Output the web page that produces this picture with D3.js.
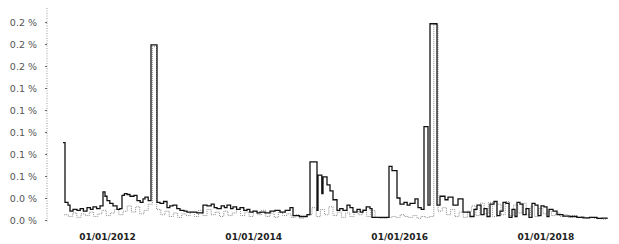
<!DOCTYPE html>
<html>
<head>
<meta charset="utf-8">
<script src="https://cdn.jsdelivr.net/npm/d3@7"></script>
<style>
  body { margin: 0; background: #fff; }
  svg { display: block; }
</style>
</head>
<body>
<div id="chart"></div>
<script>
// y tick values (in %) and the labels printed next to them
const yTicks = [0, 0.025, 0.05, 0.075, 0.1, 0.125, 0.15, 0.175, 0.2, 0.225];
const yTickLabels = ["0.0 %", "0.0 %", "0.1 %", "0.1 %", "0.1 %", "0.1 %", "0.1 %", "0.2 %", "0.2 %", "0.2 %"];
const xTicks = ["2012-01-01", "2014-01-01", "2016-01-01", "2018-01-01"];

// black series (step starts)
const blackDates = [
  "2011-05-26","2011-06-05","2011-06-20","2011-06-30","2011-07-15","2011-08-04","2011-08-20","2011-09-05",
  "2011-09-23","2011-10-10","2011-10-23","2011-11-10","2011-11-27","2011-12-12","2011-12-22","2012-01-01",
  "2012-01-15","2012-01-31","2012-02-20","2012-03-05","2012-03-16","2012-03-28","2012-04-10","2012-04-25",
  "2012-05-15","2012-05-30","2012-06-15","2012-06-29","2012-07-09","2012-07-25","2012-08-08","2012-09-07",
  "2012-09-22","2012-10-10","2012-10-27","2012-11-10","2012-11-26","2012-12-15","2012-12-31","2013-01-20",
  "2013-02-04","2013-03-01","2013-03-25","2013-04-25","2013-05-15","2013-06-05","2013-06-20","2013-07-04",
  "2013-07-25","2013-08-10","2013-08-23","2013-09-10","2013-09-22","2013-10-10","2013-10-27","2013-11-15",
  "2013-12-01","2013-12-15","2013-12-31","2014-01-20","2014-02-04","2014-03-01","2014-03-26","2014-04-20",
  "2014-05-15","2014-06-10","2014-07-04","2014-07-19","2014-08-20","2014-09-27","2014-10-12","2014-11-16",
  "2014-11-21","2014-12-10","2014-12-16","2015-01-05","2015-01-20","2015-02-04","2015-02-24","2015-03-10",
  "2015-03-26","2015-04-15","2015-04-30","2015-05-15","2015-06-04","2015-06-20","2015-07-04","2015-07-20",
  "2015-08-08","2015-08-18","2015-11-11","2015-11-26","2015-12-21","2016-01-05","2016-01-25","2016-02-10",
  "2016-02-24","2016-03-20","2016-04-04","2016-04-20","2016-05-04","2016-05-24","2016-06-03","2016-07-08",
  "2016-07-23","2016-08-17","2016-09-01","2016-09-26","2016-10-21","2016-11-15","2016-12-20","2017-01-09",
  "2017-01-24","2017-02-13","2017-02-28","2017-03-15","2017-03-30","2017-04-19","2017-05-04","2017-05-19",
  "2017-06-03","2017-06-18","2017-07-03","2017-07-18","2017-08-02","2017-08-12","2017-08-27","2017-09-11",
  "2017-09-26","2017-10-11","2017-10-26","2017-11-10","2017-11-25","2017-12-10","2017-12-25","2018-01-09",
  "2018-01-19","2018-02-08","2018-02-28","2018-03-30","2018-05-04","2018-06-08","2018-07-08","2018-08-10",
  "2018-09-16","2018-10-10","2018-11-05"
];
const blackValues = [
  0.088,0.020,0.017,0.010,0.012,0.011,0.013,0.010,
  0.014,0.012,0.015,0.013,0.016,0.032,0.027,0.022,
  0.019,0.016,0.012,0.013,0.028,0.030,0.029,0.027,
  0.028,0.022,0.020,0.024,0.026,0.022,0.199,0.020,
  0.019,0.021,0.014,0.016,0.017,0.013,0.011,0.010,
  0.009,0.009,0.008,0.017,0.016,0.018,0.014,0.013,
  0.016,0.014,0.017,0.013,0.015,0.012,0.014,0.011,
  0.012,0.009,0.010,0.008,0.009,0.008,0.010,0.011,
  0.009,0.011,0.014,0.005,0.004,0.006,0.066,0.011,
  0.051,0.030,0.049,0.040,0.033,0.023,0.011,0.013,
  0.011,0.017,0.014,0.009,0.012,0.009,0.011,0.015,
  0.013,0.003,0.061,0.056,0.025,0.018,0.020,0.017,
  0.019,0.024,0.014,0.012,0.106,0.017,0.223,0.017,
  0.027,0.023,0.026,0.017,0.024,0.009,0.004,0.012,
  0.017,0.006,0.013,0.004,0.018,0.021,0.005,0.010,
  0.020,0.019,0.003,0.012,0.004,0.020,0.018,0.006,
  0.013,0.003,0.019,0.017,0.005,0.016,0.015,0.004,
  0.012,0.010,0.006,0.0045,0.004,0.003,0.0025,0.003,
  0.0018,0.0022,0.001
];

// grey dotted series, one value every 21 days from 2011-06-01
const grayStart = "2011-06-01";
const grayValues = [
  0.006,0.004,0.008,0.003,0.007,0.005,0.009,0.004,0.007,0.011,0.005,0.008,0.012,0.006,0.010,0.016,0.009,0.015,0.007,0.011,0.018,
  0.197,
  0.012,0.006,0.010,0.004,0.008,0.003,0.007,0.005,0.009,0.004,0.011,0.005,0.012,0.006,0.009,0.004,0.010,0.005,
  0.008,0.012,0.005,0.009,0.004,0.010,0.006,0.011,0.004,0.008,0.003,0.009,0.005,0.007,0.003,0.006,0.002,0.004,
  0.006,0.014,0.004,
  0.012,0.006,0.015,0.005,0.009,0.003,0.008,0.004,0.010,0.006,0.012,0.004,0.011,0.003,0.002,0.002,0.003,
  0.004,0.003,0.006,0.004,0.003,0.005,0.002,0.004,0.003,
  0.004,0.222,0.010,
  0.014,0.006,0.012,0.004,0.009,0.003,0.010,0.016,0.005,0.019,0.007,0.020,0.004,0.018,0.006,0.021,0.005,0.017,
  0.008,0.019,0.006,0.015,0.004,0.013,0.007,0.010,
  0.005,0.008,0.004,0.006,0.003,0.005,0.003,0.004,0.002,0.003,0.002,0.002,0.001,0.002
];

const width = 619, height = 244;
const parse = d3.timeParse("%Y-%m-%d");

const svg = d3.select("#chart").append("svg")
  .attr("width", width)
  .attr("height", height);

const x = d3.scaleTime()
  .domain([parse("2011-05-26"), parse("2018-11-05")])
  .range([63, 607]);

const y = d3.scaleLinear()
  .domain([0, 0.225])
  .range([220, 22]);

// y axis
const yAxis = svg.append("g")
  .attr("transform", "translate(47,0)")
  .call(d3.axisLeft(y)
    .tickValues(yTicks)
    .tickSize(2)
    .tickPadding(8)
    .tickFormat((d, i) => yTickLabels[i]));

yAxis.select(".domain")
  .attr("d", "M0,8V222")
  .attr("stroke", "#999")
  .attr("stroke-dasharray", "1,1.5");
yAxis.selectAll(".tick line").attr("stroke", "#666");
yAxis.selectAll("text")
  .attr("fill", "#555")
  .style("font-family", "DejaVu Sans, sans-serif")
  .style("font-size", "9.5px");

// x axis (labels only)
const xAxis = svg.append("g")
  .attr("transform", "translate(0,230)")
  .call(d3.axisBottom(x)
    .tickValues(xTicks.map(parse))
    .tickSize(0)
    .tickPadding(4)
    .tickFormat(d3.timeFormat("%d/%m/%Y")));
xAxis.select(".domain").remove();
xAxis.selectAll("text")
  .attr("fill", "#222")
  .style("font-family", "DejaVu Sans, sans-serif")
  .style("font-weight", "bold")
  .style("font-size", "9px");

// series
const grayData = grayValues.map((v, i) => ({
  date: d3.timeDay.offset(parse(grayStart), i * 21),
  value: v
}));
const blackData = blackDates.map((d, i) => ({ date: parse(d), value: blackValues[i] }));

const line = d3.line()
  .x(d => x(d.date))
  .y(d => y(d.value))
  .curve(d3.curveStepAfter);

svg.append("path")
  .datum(grayData)
  .attr("fill", "none")
  .attr("stroke", "#8c8c8c")
  .attr("stroke-width", 1)
  .attr("stroke-dasharray", "1,1")
  .attr("d", line);

svg.append("path")
  .datum(blackData)
  .attr("fill", "none")
  .attr("stroke", "#111")
  .attr("stroke-width", 1.3)
  .attr("d", line);
</script>
</body>
</html>
